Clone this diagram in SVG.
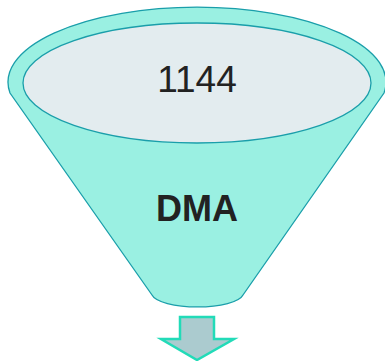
<svg xmlns="http://www.w3.org/2000/svg" width="385" height="361" viewBox="0 0 385 361">
  <style>
    .body { fill: #9af0e2; stroke: #1a9eaa; stroke-width: 1.3; }
    .mouth { fill: #e3ecef; stroke: #1a9eaa; stroke-width: 1.3; }
    .arrow { fill: #abcbcf; stroke: #22dbb8; stroke-width: 2.5; stroke-linejoin: miter; }
    .lbl { font-family: "Liberation Sans", Arial, sans-serif; fill: #222222; text-anchor: middle; }
  </style>
  <g id="funnel">
    <path class="body" d="M 10,93 A 189,75 0 1 1 384,93 L 243,295 A 46,14 0 0 1 152,295 Z"/>
    <ellipse class="mouth" cx="197" cy="83" rx="174" ry="60"/>
    <text class="lbl" x="197" y="92" font-size="37">1144</text>
    <text class="lbl" x="197" y="221" font-size="36" font-weight="bold">DMA</text>
  </g>
  <g id="connectors">
    <path class="arrow" d="M 180,317 L 214,317 L 214,339 L 234,339 L 197,360 L 161,339 L 180,339 Z"/>
  </g>
</svg>
